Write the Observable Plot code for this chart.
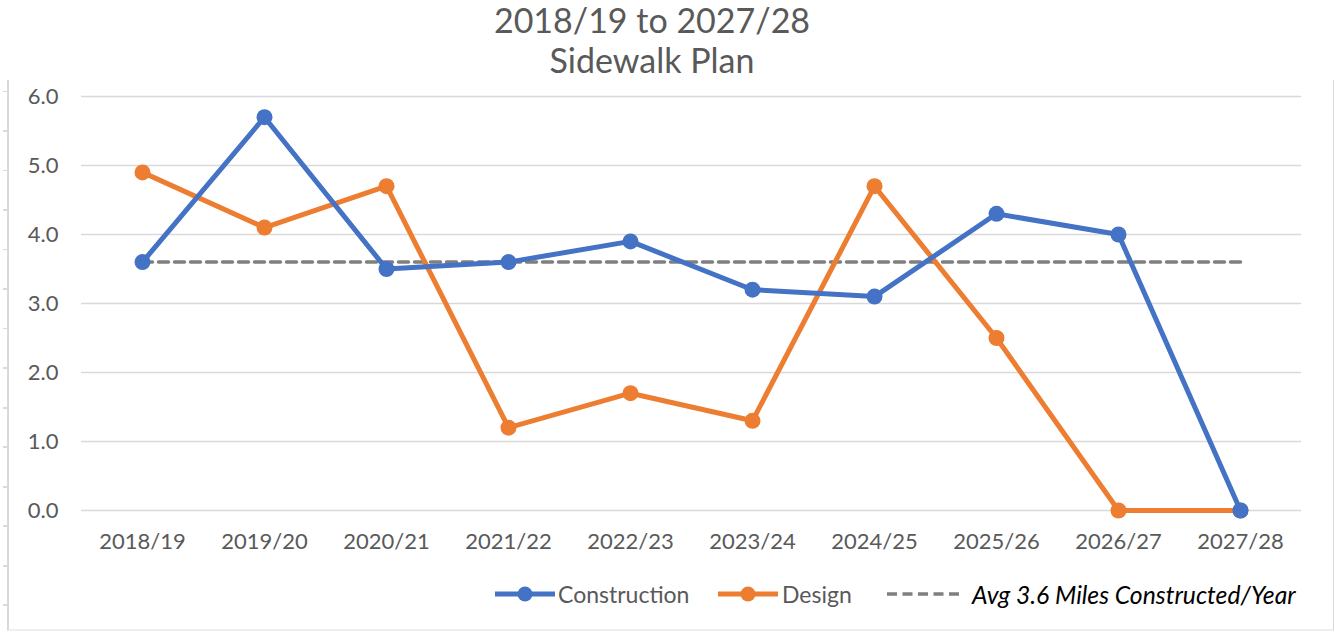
<!DOCTYPE html>
<html>
<head>
<meta charset="utf-8">
<script src="https://cdn.jsdelivr.net/npm/d3@7"></script>
<script src="https://cdn.jsdelivr.net/npm/@observablehq/plot@0.6"></script>
<style>
  html, body { margin: 0; padding: 0; background: #fff; }
  body { width: 1334px; height: 632px; position: relative; overflow: hidden; font-family: Lato, "Open Sans", sans-serif; }
  #title { position: absolute; left: 0; top: 0; width: 1304px; text-align: center; color: #595959; font-size: 34px; line-height: 40px; }
  #chart { position: absolute; left: 0; top: 80px; }
  #frame { position: absolute; left: 7px; top: 80px; width: 1324px; height: 549px; border-left: 2px solid #d9d9d9; border-right: 2px solid #d9d9d9; border-bottom: 2px solid #eeeeee; }
  #ticks { position: absolute; left: 3px; top: 91px; width: 4px; height: 540px;
    background: repeating-linear-gradient(to bottom, #d9d9d9 0px, #d9d9d9 1.5px, transparent 1.5px, transparent 39.5px); }
  #legend { position: absolute; top: 579px; left: 0; width: 1334px; height: 30px; font-size: 23px; color: #595959; }
  .item { position: absolute; top: 0; display: flex; align-items: center; height: 30px; }
</style>
</head>
<body>
<div id="frame"></div>
<div id="ticks"></div>
<div id="title">2018/19 to 2027/28<br>Sidewalk Plan</div>
<div id="chart"></div>
<div id="legend"></div>
<script>
const years = ["2018/19","2019/20","2020/21","2021/22","2022/23","2023/24","2024/25","2025/26","2026/27","2027/28"];
const construction = [3.6, 5.7, 3.5, 3.6, 3.9, 3.2, 3.1, 4.3, 4.0, 0.0];
const design = [4.9, 4.1, 4.7, 1.2, 1.7, 1.3, 4.7, 2.5, 0.0, 0.0];
const avgValue = 3.6;
const yTicks = [0, 1, 2, 3, 4, 5, 6];
const seriesNames = ["Construction", "Design"];
const avgLabel = "Avg 3.6 Miles Constructed/Year";

const blue = "#4472C4", orange = "#ED7D31", gray = "#7F7F7F";

const cData = years.map((y, i) => ({year: y, value: construction[i]}));
const dData = years.map((y, i) => ({year: y, value: design[i]}));
const avgData = [{year: years[0], value: avgValue}, {year: years[years.length - 1], value: avgValue}];

const plot = Plot.plot({
  width: 1334,
  height: 480,
  marginLeft: 81,
  marginRight: 33,
  marginTop: 16,
  marginBottom: 50,
  style: {fontFamily: "Lato, 'Open Sans', sans-serif", fontSize: "22px", color: "#595959", background: "transparent", overflow: "visible"},
  x: {type: "point", domain: years, padding: 0.5, label: null},
  y: {domain: [0, 6], label: null},
  marks: [
    Plot.ruleY(yTicks, {stroke: "#d9d9d9", strokeWidth: 1.5}),
    Plot.axisY(yTicks, {tickSize: 0, tickPadding: 23, tickFormat: d => d.toFixed(1), fontSize: 22, fill: "#595959", label: null}),
    Plot.axisX({tickSize: 0, tickPadding: 23, fontSize: 22, fill: "#595959", label: null}),
    Plot.line(avgData, {x: "year", y: "value", stroke: gray, strokeWidth: 3.5, strokeDasharray: "10,6"}),
    Plot.line(dData, {x: "year", y: "value", stroke: orange, strokeWidth: 5}),
    Plot.dot(dData, {x: "year", y: "value", fill: orange, r: 8}),
    Plot.line(cData, {x: "year", y: "value", stroke: blue, strokeWidth: 5}),
    Plot.dot(cData, {x: "year", y: "value", fill: blue, r: 8})
  ]
});
document.getElementById("chart").appendChild(plot);

// Legend
const legend = document.getElementById("legend");
function addItem(left, color, label, dashed, italic, gap) {
  const div = document.createElement("div");
  div.className = "item";
  div.style.left = left + "px";
  const w = dashed ? 76 : 60;
  let svg = `<svg width="${w}" height="30">`;
  if (dashed) {
    svg += `<line x1="0" x2="${w}" y1="15" y2="15" stroke="${color}" stroke-width="3.5" stroke-dasharray="10,5.5"/>`;
  } else {
    svg += `<line x1="0" x2="${w}" y1="15" y2="15" stroke="${color}" stroke-width="5"/><circle cx="${w/2}" cy="15" r="7.5" fill="${color}"/>`;
  }
  svg += `</svg>`;
  div.innerHTML = svg + `<span style="margin-left:${gap}px;${italic ? 'font-style:italic;color:#000;font-size:24.7px;' : ''}">${label}</span>`;
  legend.appendChild(div);
}
addItem(495, blue, seriesNames[0], false, false, 3);
addItem(718, orange, seriesNames[1], false, false, 4);
addItem(887, gray, avgLabel, true, true, 9);
</script>
</body>
</html>
